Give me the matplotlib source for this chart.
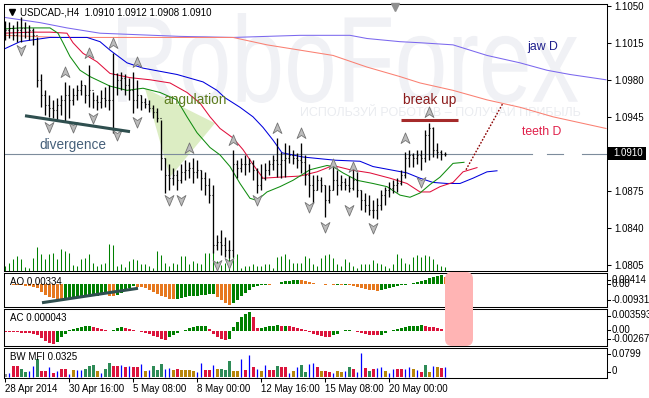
import numpy as np
import matplotlib
matplotlib.use("Agg")
import matplotlib.pyplot as plt
from matplotlib.lines import Line2D
from matplotlib.patches import Polygon, FancyBboxPatch, PathPatch, Rectangle
from matplotlib.path import Path
from matplotlib.textpath import TextPath
from matplotlib.font_manager import FontProperties
from matplotlib.transforms import Affine2D, IdentityTransform, blended_transform_factory

plt.rcParams['font.family'] = ['Liberation Sans', 'DejaVu Sans']
plt.rcParams['axes.linewidth'] = 0.75

# ---------------- data (USDCAD H4) ----------------
date_labels = ["28 Apr 2014", "30 Apr 16:00", "5 May 08:00", "8 May 00:00",
               "12 May 16:00", "15 May 08:00", "20 May 00:00"]
date_bars = [0, 16, 32, 48, 64, 80, 96]

first_open = 1.1025
high = [1.1036, 1.1035, 1.1032, 1.1036, 1.1039, 1.1035, 1.1032, 1.1029, 1.1020, 1.0985,
        1.0970, 1.0966, 1.0961, 1.0963, 1.0966, 1.0978, 1.0975, 1.0972, 1.0975, 1.0980,
        1.0975, 1.0994, 1.0968, 1.0966, 1.0970, 1.0973, 1.0975, 1.1005, 1.0986, 1.0987,
        1.0985, 1.0982, 1.0987, 1.0980, 1.0966, 1.0963, 1.0961, 1.0956, 1.0953, 1.0942,
        1.0906, 1.0900, 1.0897, 1.0895, 1.0900, 1.0904, 1.0902, 1.0906, 1.0904, 1.0895,
        1.0893, 1.0887, 1.0881, 1.0833, 1.0838, 1.0831, 1.0829, 1.0914, 1.0904, 1.0906,
        1.0909, 1.0906, 1.0904, 1.0897, 1.0900, 1.0901, 1.0904, 1.0909, 1.0925, 1.0912,
        1.0920, 1.0918, 1.0914, 1.0911, 1.0920, 1.0909, 1.0900, 1.0890, 1.0890, 1.0888,
        1.0881, 1.0881, 1.0898, 1.0895, 1.0890, 1.0887, 1.0889, 1.0895, 1.0893, 1.0876,
        1.0873, 1.0871, 1.0866, 1.0868, 1.0876, 1.0879, 1.0883, 1.0885, 1.0887, 1.0895,
        1.0912, 1.0914, 1.0911, 1.0914, 1.0914, 1.0933, 1.0939, 1.0935, 1.0920, 1.0914,
        1.0912]
low = [1.1018, 1.1019, 1.1018, 1.1016, 1.1016, 1.1019, 1.1018, 1.1013, 1.0973, 1.0954,
       1.0947, 1.0945, 1.0944, 1.0942, 1.0947, 1.0940, 1.0944, 1.0956, 1.0961, 1.0966,
       1.0958, 1.0954, 1.0953, 1.0951, 1.0953, 1.0954, 1.0951, 1.0930, 1.0966, 1.0970,
       1.0966, 1.0961, 1.0949, 1.0953, 1.0951, 1.0953, 1.0950, 1.0944, 1.0940, 1.0895,
       1.0873, 1.0876, 1.0881, 1.0876, 1.0882, 1.0885, 1.0887, 1.0882, 1.0887, 1.0876,
       1.0871, 1.0864, 1.0816, 1.0819, 1.0814, 1.0813, 1.0812, 1.0813, 1.0887, 1.0893,
       1.0890, 1.0893, 1.0885, 1.0873, 1.0876, 1.0885, 1.0890, 1.0895, 1.0888, 1.0887,
       1.0888, 1.0901, 1.0900, 1.0897, 1.0892, 1.0881, 1.0869, 1.0864, 1.0876, 1.0874,
       1.0850, 1.0864, 1.0876, 1.0871, 1.0876, 1.0876, 1.0874, 1.0876, 1.0869, 1.0857,
       1.0855, 1.0852, 1.0849, 1.0848, 1.0857, 1.0862, 1.0869, 1.0873, 1.0874, 1.0881,
       1.0887, 1.0898, 1.0898, 1.0900, 1.0895, 1.0902, 1.0904, 1.0907, 1.0906, 1.0904,
       1.0908]
close = [1.1027, 1.1029, 1.1022, 1.1027, 1.1029, 1.1025, 1.1027, 1.1022, 1.0980, 1.0966,
         1.0956, 1.0953, 1.0951, 1.0956, 1.0961, 1.0966, 1.0961, 1.0966, 1.0970, 1.0975,
         1.0966, 1.0970, 1.0961, 1.0959, 1.0963, 1.0961, 1.0961, 1.0985, 1.0980, 1.0982,
         1.0975, 1.0970, 1.0961, 1.0966, 1.0959, 1.0957, 1.0953, 1.0950, 1.0944, 1.0906,
         1.0890, 1.0887, 1.0890, 1.0885, 1.0893, 1.0895, 1.0897, 1.0893, 1.0895, 1.0887,
         1.0881, 1.0871, 1.0824, 1.0827, 1.0824, 1.0819, 1.0819, 1.0900, 1.0897, 1.0900,
         1.0900, 1.0901, 1.0895, 1.0881, 1.0887, 1.0895, 1.0900, 1.0904, 1.0900, 1.0904,
         1.0906, 1.0909, 1.0906, 1.0904, 1.0902, 1.0890, 1.0881, 1.0876, 1.0885, 1.0881,
         1.0866, 1.0876, 1.0885, 1.0881, 1.0883, 1.0881, 1.0878, 1.0885, 1.0876, 1.0866,
         1.0862, 1.0857, 1.0857, 1.0862, 1.0871, 1.0876, 1.0878, 1.0881, 1.0882, 1.0890,
         1.0906, 1.0909, 1.0906, 1.0909, 1.0906, 1.0928, 1.0934, 1.0914, 1.0912, 1.0910,
         1.0910]
tick_volume = [500, 800, 1200, 1500, 1200, 400, 300, 1300, 2400, 1700,
               1200, 1700, 1800, 1200, 2200, 2000, 1800, 600, 500, 1200,
               1300, 1700, 800, 500, 700, 800, 2700, 2600, 500, 700,
               400, 1000, 1200, 1100, 700, 700, 500, 300, 2000, 1600,
               800, 500, 800, 700, 1500, 1500, 700, 1000, 800, 700,
               1800, 1800, 2000, 1000, 600, 800, 1700, 1500, 1700, 300,
               500, 500, 700, 500, 500, 700, 700, 300, 1400, 1500,
               1700, 1200, 800, 800, 800, 1500, 1300, 700, 500, 1300,
               1600, 1700, 1300, 700, 500, 1200, 900, 500, 300, 700,
               700, 700, 1100, 800, 700, 500, 300, 700, 1700, 1300,
               800, 700, 1400, 1600, 1400, 1600, 1500, 1200, 700, 500,
               400]

# Alligator H4 (bar position, price)
jaw_t = [-0.25, 3.75, 11.25, 20.5, 23.75, 26.25, 30.5, 34.5, 43, 49.5, 53, 55, 58.75, 62, 64.5,
         67, 69.25, 74.5, 82.5, 88.75, 92, 96.25, 100.5, 103.75, 107, 110.5, 113.75, 117, 120.5, 123]
jaw_p = [1.1009, 1.1016, 1.1020, 1.1020, 1.1016, 1.1008, 1.0996, 1.0991, 1.0985, 1.0978, 1.0970,
         1.0963, 1.0954, 1.0945, 1.0935, 1.0923, 1.0911, 1.0907, 1.0904, 1.0903, 1.0898, 1.0895,
         1.0892, 1.0887, 1.0883, 1.0882, 1.0882, 1.0887, 1.0893, 1.0894]
teeth_t = [-0.25, 6.25, 11.25, 15.5, 17, 19.5, 23, 26.25, 31.25, 36.25, 41.25, 45.5, 48.75, 51.25,
           53.75, 57, 59.5, 62, 64.5, 68.75, 73.75, 78, 82, 86.25, 91.25, 96.25, 100.5, 103.75,
           106.25, 108.75, 112, 114.5, 118]
teeth_p = [1.1024, 1.1025, 1.1025, 1.1024, 1.1015, 1.1005, 1.0997, 1.0986, 1.0982, 1.0980, 1.0977,
           1.0968, 1.0958, 1.0945, 1.0934, 1.0925, 1.0914, 1.0900, 1.0887, 1.0888, 1.0889, 1.0893,
           1.0899, 1.0895, 1.0892, 1.0887, 1.0882, 1.0874, 1.0874, 1.0879, 1.0883, 1.0893, 1.0897]
lips_t = [-0.25, 3.75, 11.25, 13.25, 14.5, 16.25, 18.75, 21.25, 26.25, 30.5, 34.5, 38.75, 43, 45.5,
          48, 51.25, 53.75, 56.25, 58.75, 61.25, 63, 65.5, 68.75, 72, 76.25, 80.5, 82, 84.5, 88,
          92, 95.5, 98.75, 101.25, 103.75, 106.25, 108.75, 112, 114.75]
lips_p = [1.1028, 1.1029, 1.1029, 1.1024, 1.1015, 1.1002, 1.0989, 1.0983, 1.0974, 1.0970, 1.0972,
          1.0968, 1.0961, 1.0945, 1.0930, 1.0916, 1.0909, 1.0898, 1.0882, 1.0868, 1.0866, 1.0874,
          1.0879, 1.0885, 1.0895, 1.0899, 1.0898, 1.0892, 1.0885, 1.0882, 1.0879, 1.0871, 1.0869,
          1.0873, 1.0881, 1.0888, 1.0901, 1.0902]
# Alligator D1 projected on H4
jawd_t = [-0.25, 8.75, 15.5, 23.75, 43.75, 57, 73.75, 86.25, 90.5, 98.75, 103.75, 112, 120.5,
          128.75, 135.5, 141.25, 150.25]
jawd_p = [1.1039, 1.1034, 1.1029, 1.1024, 1.1021, 1.1020, 1.1022, 1.1022, 1.1019, 1.1016, 1.1015,
          1.1013, 1.1003, 1.0996, 1.0989, 1.0985, 1.0980]
teethd_t = [-0.25, 13.75, 43.75, 57, 65.5, 73.75, 82, 90.5, 98.75, 103.75, 112, 120.5, 128.75,
            137, 150.25]
teethd_p = [1.1022, 1.1020, 1.1020, 1.1020, 1.1013, 1.1008, 1.1003, 1.0992, 1.0983, 1.0977, 1.0970,
            1.0961, 1.0954, 1.0945, 1.0934]

# Fractals (bar, marker level)
frac_up_bar = [15, 21, 27, 33, 46, 57, 68, 74, 82, 87, 100, 106]
frac_up_lvl = [1.0987, 1.1005, 1.1015, 1.0997, 1.0916, 1.0923, 1.0934, 1.0930, 1.0900, 1.0898,
               1.0925, 1.0950]
frac_dn_bar = [4, 11, 17, 22, 28, 33, 41, 44, 53, 56, 63, 76, 80, 86, 92, 104]
frac_dn_lvl = [1.1008, 1.0935, 1.0935, 1.0944, 1.0928, 1.0940, 1.0866, 1.0866, 1.0805, 1.0807,
               1.0866, 1.0860, 1.0841, 1.0857, 1.0840, 1.0883]

# Awesome oscillator
ao = [-0.0002, -0.0002, -0.0004, -0.0004, -0.0005, -0.0007, -0.0009, -0.0013,
      -0.0020, -0.0036, -0.0049, -0.0058, -0.0063, -0.0067, -0.0072,
      -0.0070, -0.0067, -0.0065, -0.0063, -0.0061, -0.0058, -0.0056, -0.0054, -0.0052, -0.0049, -0.0047,
      -0.0052, -0.0054,
      -0.0049, -0.0040, -0.0030, -0.0020, -0.0010,
      -0.0012, -0.0015, -0.0020, -0.0027, -0.0034, -0.0043, -0.0052, -0.0060, -0.0065, -0.0067,
      -0.0065, -0.0062, -0.0059, -0.0056, -0.0054, -0.0052, -0.0050, -0.0048, -0.0046, -0.0045,
      -0.0058, -0.0070, -0.0083, -0.00931,
      -0.0085, -0.0070, -0.0055, -0.0040, -0.0025,
      -0.0015, -0.0010, -0.0006, -0.0003, -0.0004, -0.0002, 0.0002,
      0.0008, 0.0012, 0.0015, 0.0017, 0.0018,
      0.0016, 0.0013, 0.0009, 0.0005, 0.0002, -0.0001,
      -0.0003, -0.0002, -0.0004, -0.0003, -0.0005, -0.0004, -0.0006,
      -0.0010, -0.0015, -0.0020, -0.0024, -0.0027, -0.0029, -0.0030,
      -0.0028, -0.0024, -0.0020, -0.0015, -0.0010,
      -0.0006, -0.0003, 0.0000,
      0.0005, 0.0010, 0.0015, 0.0020, 0.0026, 0.0031, 0.0037, 0.00414, 0.00334]

# Accelerator oscillator
ac = [-0.00006, -0.00006, -0.00009, -0.00015, -0.00023, -0.00028, -0.00034, -0.00038,
      -0.00066, -0.00123, -0.00180, -0.00217, -0.00238,
      -0.00189, -0.00113, -0.00038,
      0.00019, 0.00038, 0.00066, 0.00076, 0.00095, 0.00104,
      0.00085, 0.00057, 0.00038, 0.00019, 0.00009,
      0.00028, 0.00057, 0.00085,
      0.00057, 0.00038, 0.00019, 0.00009, -0.00009, -0.00019, -0.00038, -0.00076, -0.00113, -0.00142, -0.00161,
      -0.00113, -0.00057, -0.00019, 0.00006, 0.00028, 0.00057, 0.00085, 0.00095, 0.00104, 0.00113,
      0.00038, -0.00038, -0.00095, -0.00142, -0.00170,
      -0.00151,
      0.00076, 0.00170, 0.00265, 0.00331, 0.003593,
      0.00265, 0.00057,
      0.00066, 0.00076, 0.00095, 0.00104, 0.00123,
      0.00095, 0.00104, 0.00095, 0.00076, 0.00057, 0.00038, 0.00019,
      -0.00009, -0.00038, -0.00057, -0.00076, -0.00095, -0.00104,
      -0.00066, -0.00038, 0.00009, 0.00019, 0.00028,
      0.00009, -0.00009, -0.00019, -0.00038, -0.00057, -0.00060, -0.00066,
      -0.00057, -0.00028, 0.00009, 0.00028, 0.00047, 0.00066, 0.00085, 0.00098, 0.00108, 0.00113, 0.00117,
      0.00104, 0.00085, 0.00076, 0.00066, 0.00047, 0.000043]

# Market facilitation index (value, bar type: g=green, b=fade, u=fake, p=squat, n=none)
mfi = [0.0100, 0.0133, 0.0367, 0.0367, 0.0267, 0.0167, 0.0200, 0.0367, 0.0600, 0.0200,
       0.0200, 0.0333, 0.0133, 0.0200, 0.0267, 0.0267, 0.0100, 0.0233, 0.0233, 0.0233,
       0.0267, 0.0367, 0.0400, 0.0200, 0.0133, 0.0267, 0.0467, 0.0367, 0.0367, 0.0400,
       0.0333, 0.0367, 0.0333, 0.0333, 0.0433, 0.0200, 0.0233, 0.0367, 0.0233, 0.0433,
       0.0267, 0.0300, 0.0233, 0.0267, 0.0233, 0.0233, 0.0233, 0.0200, 0.0167, 0.0467,
       0.0233, 0.0233, 0.0400, 0.0267, 0.0267, 0.0233, 0.0533, 0.0200, 0.0200, 0.0600,
       0.0233, 0.0733, 0.0333, 0.0267, 0.0200, 0.0400, 0.0233, 0.0233, 0.0367, 0.0333,
       0.0333, 0.0133, 0.0200, 0.0333, 0.0400, 0.0167, 0.0433, 0.0467, 0.0333, 0.0200,
       0.0200, 0.0167, 0.0133, 0.0200, 0.0167, 0.0200, 0.0333, 0.0267, 0.0167, 0.0799,
       0.0300, 0.0200, 0.0267, 0.0300, 0.0333, 0.0200, 0.0133, 0.0267, 0.0267, 0.0267,
       0.0267, 0.0333, 0.0267, 0.0233, 0.0167, 0.0400, 0.0167, 0.0367, 0.0333, 0.0300,
       0.0325]
mfi_kind = ("nuppgguugp" "pupuppubuu" "gggbuggppu" "puppubuggg" "uubpbbbbuu"
            "ppubgggbbu" "pupubuppgp" "pubugguupb" "ppubbugpuu" "pgpuubuupp" "uubupgbubpu")

bid = 1.0910
price_levels = [1.1050, 1.1015, 1.0980, 1.0945, 1.0875, 1.0840, 1.0805]

# chart annotations (bar, price)
divergence_t, divergence_p = [5, 31.25], [1.0946, 1.0931]
ao_div_t, ao_div_v = [9.25, 33.25], [-0.00839, -0.00193]
angulation_t = [35, 52.5, 41.25]
angulation_p = [1.0972, 1.0939, 1.0888]
breakup_t, breakup_p = [99, 113.25], [1.0942, 1.0942]
forecast_t, forecast_p = [115.25, 124.5], [1.0895, 1.0958]

# ---------------- figure ----------------
W, H = 649, 398
fig = plt.figure(figsize=(W / 100, H / 100), dpi=100)
fig.patch.set_facecolor('white')


def fx(x):
    return x / W


def fy(y):
    return 1 - y / H


def panel(y0, y1):
    a = fig.add_axes([fx(4), fy(y1), fx(603), (y1 - y0) / H])
    a.set_xlim(-0.25, 150.5)
    a.set_xticks([])
    a.set_yticks([])
    for s in a.spines.values():
        s.set_color('black')
    return a


FS = 7
ax = panel(4, 271)
ax_ao = panel(273, 307)
ax_ac = panel(309, 346)
ax_bw = panel(348, 378)

n = len(close)
t = np.arange(n)
opens = [first_open] + close[:-1]

# watermark
tp = TextPath((0, 0), "RoboForex", size=100, prop=FontProperties(family='Liberation Sans'))
ext = tp.get_extents()
tr = (Affine2D().translate(-ext.x0, -ext.y0)
      .scale(460 / ext.width, 90 / ext.height).translate(118, H - 103))
wm = PathPatch(tr.transform_path(tp), transform=IdentityTransform(),
               fc='#f0f1f5', ec='none', zorder=0.2)
ax.add_patch(wm)
ax.text(fx(300), fy(113), "ИСПОЛЬЗУЙ РОБОТОВ – ПОЛУЧАЙ ПРИБЫЛЬ", transform=fig.transFigure,
        fontsize=9, color='#eaecf0', va='center', zorder=0.3)

ax.set_ylim(1.07993, 1.10516)

# volumes at bottom of price window
vol_tr = blended_transform_factory(ax.transData, ax.transAxes)
ax.vlines(t, 0, np.array(tick_volume) / 26700, transform=vol_tr, color='#008000', lw=0.75, zorder=1)

# angulation area
ax.add_patch(Polygon(list(zip(angulation_t, angulation_p)), closed=True,
                     fc='#dcedc3', ec='none', zorder=0.8))

# bid line
ax.plot([-0.25, 131.75], [bid, bid], color='#7d8c9c', lw=0.8, zorder=1.5)
ax.plot([135.5, 139.5], [bid, bid], color='#7d8c9c', lw=0.8, zorder=1.5)
ax.plot([144.25, 150.5], [bid, bid], color='#7d8c9c', lw=0.8, zorder=1.5)

# alligators
ax.plot(jawd_t, jawd_p, color='#7b68ee', lw=0.75, zorder=2)
ax.plot(teethd_t, teethd_p, color='#fa8072', lw=0.75, zorder=2)
ax.plot(jaw_t, jaw_p, color='#0000dd', lw=0.75, zorder=2)
ax.plot(teeth_t, teeth_p, color='#e0103c', lw=0.75, zorder=2)
ax.plot(lips_t, lips_p, color='#108c10', lw=0.75, zorder=2)

# price bars
ax.vlines(t, low, high, color='black', lw=0.95, zorder=3)
ax.hlines(opens, t - 0.35, t, color='black', lw=0.8, zorder=3)
ax.hlines(close, t, t + 0.35, color='black', lw=0.8, zorder=3)

# fractals
up_arrow = Path([(0, 1), (0.8, -0.9), (0, -0.35), (-0.8, -0.9), (0, 1)],
                [Path.MOVETO, Path.LINETO, Path.LINETO, Path.LINETO, Path.CLOSEPOLY])
dn_arrow = Path([(0, -1), (0.8, 0.9), (0, 0.35), (-0.8, 0.9), (0, -1)],
                [Path.MOVETO, Path.LINETO, Path.LINETO, Path.LINETO, Path.CLOSEPOLY])
ax.plot(frac_up_bar, frac_up_lvl, ls='none', marker=up_arrow, ms=8,
        mfc='#bcbcbc', mec='#747474', mew=0.6, zorder=4)
ax.plot(frac_dn_bar, frac_dn_lvl, ls='none', marker=dn_arrow, ms=8,
        mfc='#bcbcbc', mec='#747474', mew=0.6, zorder=4)

# analyst drawings
ax.plot(divergence_t, divergence_p, color='#2f4f4f', lw=2.2, solid_capstyle='butt', zorder=5)
ax.plot(breakup_t, breakup_p, color='#a52a2a', lw=2.2, solid_capstyle='butt', zorder=5)
ax.plot(forecast_t, forecast_p, color='#8b0000', lw=1.0, ls=(0, (1.2, 1.2)), zorder=5)
ax.text(8.5, 1.0918, "divergence", color='#46607a', fontsize=9.8, va='center', zorder=6)
ax.text(39.5, 1.0961, "angulation", color='#5d7d1e', fontsize=9.8, va='center', zorder=6)
ax.text(99.5, 1.0961, "break up", color='#8b1a1a', fontsize=9.8, va='center', zorder=6)
ax.text(130.5, 1.1011, "jaw D", color='#1e1e8c', fontsize=8.8, va='center', zorder=6)
ax.text(129.25, 1.0931, "teeth D", color='#e0204a', fontsize=8.8, va='center', zorder=6)

# price scale
ax.yaxis.tick_right()
ax.set_yticks(price_levels)
ax.set_yticklabels([f"{v:.4f}" for v in price_levels])
ax.tick_params(axis='y', length=3, width=0.75, pad=2, labelsize=FS)
fig.add_artist(Rectangle((fx(608), fy(160)), 38 / W, 13 / H, transform=fig.transFigure,
                         fc='black', ec='none'))
fig.text(fx(613), fy(153.5), f"{bid:.4f}", color='white', fontsize=FS, va='center')

fig.text(fx(20), fy(12.5), "USDCAD-,H4  1.0910 1.0912 1.0908 1.0910", fontsize=FS, va='center')
fig.add_artist(Line2D([fx(12)], [fy(12)], marker='v', ms=4.5, color='black',
                      transform=fig.transFigure))
fig.add_artist(Line2D([fx(395)], [fy(7)], marker='v', ms=6, color='#909090',
                      transform=fig.transFigure))

# AO
ao_arr = np.array(ao)
ao_col = ['#008000' if i > 0 and ao_arr[i] > ao_arr[i - 1] else '#e6781e' for i in range(n)]
ax_ao.bar(t, ao_arr, width=0.75, color=ao_col, lw=0)
ax_ao.set_ylim(-0.01031, 0.00493)
ax_ao.plot(ao_div_t, ao_div_v, color='#2f4f4f', lw=2.2, solid_capstyle='butt')

# AC
ac_arr = np.array(ac)
ac_col = ['#008000' if i > 0 and ac_arr[i] > ac_arr[i - 1] else '#dc143c' for i in range(n)]
ax_ac.bar(t, ac_arr, width=0.75, color=ac_col, lw=0)
ax_ac.set_ylim(-0.00274, 0.00425)

# BW MFI
kind_col = {'g': '#2e8b57', 'b': '#b8860b', 'p': '#dc143c', 'n': '#909090'}
for i, (v, k) in enumerate(zip(mfi, mfi_kind)):
    if k == 'u':
        ax_bw.vlines(i, 0, v, color='#0000ff', lw=0.9)
    else:
        ax_bw.bar(i, v, width=0.75, color=kind_col[k], lw=0)
ax_bw.set_ylim(-0.0033, 0.0967)
ax_bw.set_xticks(date_bars)
ax_bw.set_xticklabels(date_labels)
ax_bw.tick_params(axis='x', length=3, width=0.75, pad=1.5, labelsize=FS)
for lab in ax_bw.get_xticklabels():
    lab.set_ha('left')

# indicator labels
fig.text(fx(10), fy(282), "AO 0.00334", fontsize=FS, va='center')
fig.text(fx(10), fy(318), "AC 0.000043", fontsize=FS, va='center')
fig.text(fx(10), fy(357), "BW MFI 0.0325", fontsize=FS, va='center')
for y, s in [(280, "0.00414"), (284, "0.00"), (300, "-0.00931"),
             (315.5, "0.003593"), (330, "0.00"), (339, "-0.00267"),
             (354, "0.0799"), (371.5, "0")]:
    fig.text(fx(612), fy(y), s, fontsize=FS, va='center')
    fig.add_artist(Line2D([fx(607), fx(610)], [fy(y), fy(y)], color='black', lw=0.75,
                          transform=fig.transFigure))

# highlight of current oscillator bars
fig.add_artist(FancyBboxPatch((445, H - 346), 28, 74, boxstyle="round,pad=0,rounding_size=7",
                              transform=IdentityTransform(), fc='#ffb4b4', ec='none', zorder=5))

fig.savefig("out.png", dpi=100)
